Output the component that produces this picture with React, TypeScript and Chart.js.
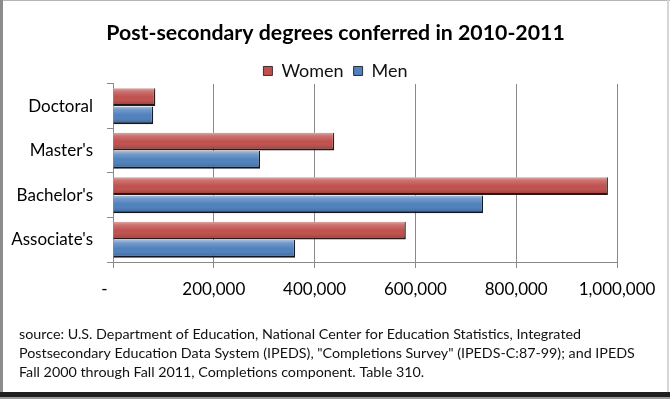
import React, { useEffect, useRef } from "react";
import { Chart, registerables } from "chart.js";

Chart.register(...registerables);

const categories = ["Doctoral", "Master's", "Bachelor's", "Associate's"];
const women = [84000, 439000, 982000, 581000];
const men = [79700, 291700, 734200, 361400];
const seriesNames = ["Women", "Men"];
const titleText = "Post-secondary degrees conferred in 2010-2011";
const sourceLines = [
  "source: U.S. Department of Education, National Center for Education Statistics, Integrated",
  "Postsecondary Education Data System (IPEDS), \"Completions Survey\" (IPEDS-C:87-99); and IPEDS",
  "Fall 2000 through Fall 2011, Completions component. Table 310.",
];
const xMax = 1000000;
const xStep = 200000;

const FONT = "Lato";
const GRID = "#8a8a8a";

const framePlugin = {
  id: "frame",
  afterLayout(chart: any) {
    // let the category labels use the space left of the axis box (no clipping)
    const y = chart.scales.y;
    if (y) y.left = 0;
  },
  beforeDraw(chart: any) {
    const { ctx, width, height } = chart;
    ctx.save();
    ctx.fillStyle = "#ffffff";
    ctx.fillRect(0, 0, width, height);
    ctx.restore();
  },
  afterDraw(chart: any) {
    const { ctx, width, height } = chart;
    ctx.save();
    ctx.fillStyle = "#b4b4b4";
    ctx.fillRect(0, 0, width, 1);
    ctx.fillStyle = "#8c8c8c";
    ctx.fillRect(0, 0, 3, height);
    ctx.fillStyle = "#d6d6d6";
    ctx.fillRect(width - 3, 0, 2, height);
    ctx.fillStyle = "#1e1e1e";
    ctx.fillRect(0, height - 7, width, 5);
    ctx.fillStyle = "#9a9a9a";
    ctx.fillRect(0, height - 2, width, 2);
    ctx.restore();
  },
};

const bevelPlugin = {
  id: "bevel",
  afterDatasetsDraw(chart: any) {
    const { ctx } = chart;
    ctx.save();
    chart.data.datasets.forEach((_: any, di: number) => {
      const meta = chart.getDatasetMeta(di);
      meta.data.forEach((bar: any) => {
        const top = bar.y - bar.height / 2;
        const h = bar.height;
        const left = Math.min(bar.base, bar.x);
        const w = Math.abs(bar.x - bar.base);
        const g = ctx.createLinearGradient(0, top, 0, top + h);
        g.addColorStop(0, "rgba(255,255,255,0.5)");
        g.addColorStop(0.18, "rgba(255,255,255,0.2)");
        g.addColorStop(0.5, "rgba(255,255,255,0)");
        g.addColorStop(0.85, "rgba(0,0,0,0.12)");
        g.addColorStop(1, "rgba(0,0,0,0.3)");
        ctx.fillStyle = g;
        ctx.fillRect(left, top, w - 1, h - 1);
      });
    });
    ctx.restore();
  },
};

export default function App() {
  const ref = useRef<HTMLCanvasElement | null>(null);

  useEffect(() => {
    if (!ref.current) return;
    Chart.defaults.font.family = FONT;
    Chart.defaults.color = "#000";
    const chart = new Chart(ref.current, {
      type: "bar",
      data: {
        labels: categories,
        datasets: [
          {
            label: seriesNames[0],
            data: women,
            backgroundColor: "#c0504d",
            borderColor: "#2a1a1a",
            borderWidth: { top: 0, left: 0, right: 1.5, bottom: 2 },
            borderSkipped: false,
            categoryPercentage: 0.82,
            barPercentage: 0.98,
          },
          {
            label: seriesNames[1],
            data: men,
            backgroundColor: "#4f81bd",
            borderColor: "#141a24",
            borderWidth: { top: 0, left: 0, right: 1.5, bottom: 2 },
            borderSkipped: false,
            categoryPercentage: 0.82,
            barPercentage: 0.98,
          },
        ],
      },
      options: {
        indexAxis: "y",
        responsive: false,
        animation: false,
        devicePixelRatio: 1,
        layout: { padding: { left: 19, right: 18, top: 0, bottom: 0 } },
        plugins: {
          title: {
            display: true,
            text: titleText,
            color: "#000",
            font: { family: FONT, size: 21.3, weight: "bold", lineHeight: 1.2 },
            padding: { top: 20, bottom: 6.4 },
          },
          subtitle: {
            display: true,
            text: sourceLines,
            position: "bottom",
            align: "start",
            color: "#111",
            font: { family: FONT, size: 14.3, weight: "normal", lineHeight: "19px" },
            padding: { top: 1.5, bottom: 17 },
          },
          legend: {
            display: true,
            position: "top",
            maxHeight: 32,
            labels: {
              color: "#111",
              font: { family: FONT, size: 18 },
              boxWidth: 9,
              boxHeight: 9,
              padding: 10,
            },
          },
          tooltip: { enabled: false },
        },
        scales: {
          x: {
            type: "linear",
            position: "bottom",
            min: 0,
            max: xMax,
            afterFit(s: any) {
              s.height = 61.5;
            },
            grid: { color: GRID, lineWidth: 1, tickLength: 6, drawTicks: true },
            border: { color: GRID },
            ticks: {
              stepSize: xStep,
              padding: 11,
              color: "#000",
              font: { family: FONT, size: 17 },
              callback: (v: any) => (v === 0 ? "-    " : Number(v).toLocaleString("en-US")),
            },
          },
          y: {
            type: "category",
            position: "left",
            afterFit(s: any) {
              s.width = 94;
            },
            grid: { drawOnChartArea: false, drawTicks: true, tickLength: 6, color: GRID, offset: true },
            border: { color: GRID },
            ticks: { padding: 14, color: "#000", font: { family: FONT, size: 17 } },
          },
          yRight: {
            type: "linear",
            position: "right",
            display: true,
            afterFit(s: any) {
              s.width = 35;
            },
            grid: { display: false, drawTicks: false },
            border: { display: false },
            ticks: { display: false },
          },
        },
      },
      plugins: [framePlugin, bevelPlugin],
    } as any);
    return () => chart.destroy();
  }, []);

  return (
    <div style={{ position: "absolute", left: 0, top: 0, width: 670, height: 399 }}>
      <canvas ref={ref} width={670} height={399} />
    </div>
  );
}
